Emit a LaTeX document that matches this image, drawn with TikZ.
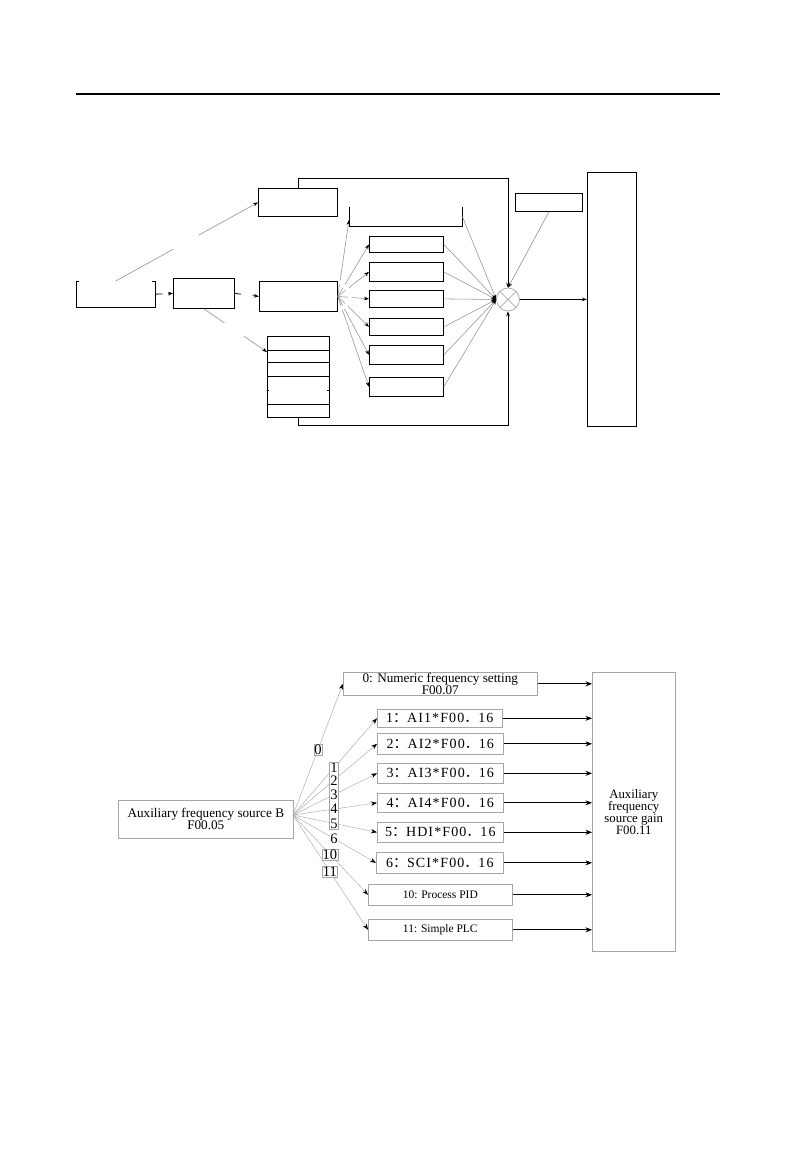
\documentclass[tikz,border=0pt]{standalone}
\usepackage{fontspec}
\setmainfont{Liberation Serif}
\newfontfamily\cjk{Noto Sans CJK SC}
\newfontfamily\aifont[LetterSpace=8]{Liberation Serif}
\usetikzlibrary{arrows.meta,calc,fit}
\begin{document}
\begin{tikzpicture}[x=1pt,y=-1pt,
  tbox/.style={draw,line width=0.8pt,inner sep=0pt,anchor=north west},
  tnone/.style={inner sep=0pt,anchor=north west},
  tarr/.style={-{Stealth[length=5pt,width=3.6pt]},line width=0.8pt},
  tfan/.style={draw=gray!85,line width=0.55pt,-{Stealth[length=5pt,width=3.6pt,color=black]}},
  bbox/.style={draw=gray!70,line width=0.6pt,inner sep=0pt,anchor=north west,align=center,font=\fontsize{11.5}{12}\selectfont},
  bigtxt/.style={font=\fontsize{13.2}{12}\selectfont},
  aibox/.style={bbox,font=\fontsize{14}{14}\aifont},
  barr/.style={-{Stealth[length=6.5pt,width=5pt]},line width=0.7pt},
  bfan/.style={draw=gray!65,line width=0.45pt,-{Stealth[length=6pt,width=4.4pt,color=black]}},
  lab/.style={font=\fontsize{14.5}{14}\selectfont,inner sep=0.6pt,fill=white},
  labd/.style={lab,draw=gray!70,line width=0.5pt}]
\useasboundingbox[fill=white] (0,0) rectangle (794,1151);
% header rule
\coordinate (h1) at (76,94);
\coordinate (h2) at (720,94);
\draw[line width=1.3pt] (h1) -- (h2);

% ---------- top diagram ----------
\node[tnone,minimum width=79pt,minimum height=26pt] (L1) at (76,281) {};
\draw[line width=0.8pt] ([xshift=3pt]L1.north west) -- (L1.north west) -- (L1.south west) -- (L1.south east) -- (L1.north east) -- ([xshift=-3pt]L1.north east);
\node[tbox,minimum width=61pt,minimum height=30pt] (L2) at (173,278) {};
\node[tbox,minimum width=78pt,minimum height=30pt] (M) at (259,281) {};
\node[tbox,minimum width=79pt,minimum height=28pt] (T) at (258,188) {};
\node[tbox,minimum width=62pt,minimum height=81pt] (S) at (267,336) {};
\foreach \yy in {350,362,376,404} \draw[line width=0.8pt] (267,\yy) -- (329,\yy);
\draw[line width=0.8pt] (267,390) -- ++(2,0) (329,390) -- ++(-2,0);
\node[tnone,minimum width=113pt,minimum height=19pt] (U) at (349,207) {};
\draw[line width=0.8pt] (U.north west) -- (U.south west) -- (U.south east) -- (U.north east);
\node[tbox,minimum width=74pt,minimum height=16pt] (K1) at (369,236) {};
\node[tbox,minimum width=74pt,minimum height=19pt] (K2) at (369,262) {};
\node[tbox,minimum width=74pt,minimum height=17pt] (K3) at (369,290) {};
\node[tbox,minimum width=74pt,minimum height=17pt] (K4) at (369,318) {};
\node[tbox,minimum width=74pt,minimum height=19pt] (K5) at (369,345) {};
\node[tbox,minimum width=74pt,minimum height=19pt] (K6) at (369,377) {};
\node[tbox,minimum width=67pt,minimum height=18pt] (P) at (515,193) {};
\node[tbox,minimum width=49pt,minimum height=254pt] (B) at (587,172) {};
\node[draw=gray!80,line width=0.6pt,circle,minimum size=23pt,inner sep=0pt] (C) at (508,299.5) {};
\draw[gray!80,line width=0.6pt] (C.north west) -- (C.south east) (C.north east) -- (C.south west);

\draw[tarr,dash pattern=on 7pt off 6pt] (L1.east) -- (L2.west);
\draw[tarr,dash pattern=on 6pt off 12pt] (L2.east) -- (M.west);
\draw[tfan,line width=0.6pt,dash pattern=on 66pt off 29pt on 200pt] (L1.north) -- (T.west);
\coordinate (Sin) at (267,352);
\draw[tfan,line width=0.6pt,dash pattern=on 25pt off 24pt on 100pt] (L2.south) -- (Sin);
\coordinate (Uin) at (349,220);
\draw[tfan,dash pattern=on 12pt off 4pt on 100pt] (M.east) -- (Uin);
\foreach \k in {1,...,6} {
  \draw[tfan,dash pattern=on 10pt off 4pt on 100pt] (M.east) -- (K\k.west);
  \draw[tfan] (K\k.east) -- (C.west);
}
\draw[tfan] (U.east) -- (C.west);
\draw[tarr] (T.north) -- ++(0,-10) -| (C.north);
\draw[tarr] (S.south) -- ++(0,8) -| (C.south);
\draw[tfan,line width=0.6pt] (P.south) -- (C.north);
\draw[tarr] (C.east) -- (B.west);

% ---------- bottom diagram ----------
\node[bbox,bigtxt,minimum width=175pt,minimum height=38pt] (A) at (118,800) {Auxiliary frequency source B\\F00.05};
\node[bbox,bigtxt,minimum width=194pt,minimum height=23pt] (B0) at (343,672) {0: Numeric frequency setting\\F00.07};
\node[aibox,minimum width=125pt,minimum height=18pt] (B1) at (377,709) {1{\cjk ：}AI1*F00{\cjk ．}16};
\node[aibox,minimum width=126pt,minimum height=21pt] (B2) at (377,733) {2{\cjk ：}AI2*F00{\cjk ．}16};
\node[aibox,minimum width=126pt,minimum height=20pt] (B3) at (377,763) {3{\cjk ：}AI3*F00{\cjk ．}16};
\node[aibox,minimum width=126pt,minimum height=19pt] (B4) at (377,793) {4{\cjk ：}AI4*F00{\cjk ．}16};
\node[aibox,minimum width=126pt,minimum height=20pt] (B5) at (377,822) {5{\cjk ：}HDI*F00{\cjk ．}16};
\node[aibox,minimum width=127pt,minimum height=21pt] (B6) at (376,852) {6{\cjk ：}SCI*F00{\cjk ．}16};
\node[bbox,minimum width=144pt,minimum height=21pt] (B10) at (368,884) {10: Process PID};
\node[bbox,minimum width=144pt,minimum height=21pt] (B11) at (368,919) {11: Simple PLC};
\node[bbox,font=\fontsize{12.8}{11.6}\selectfont,minimum width=83pt,minimum height=279pt] (G) at (592,672) {Auxiliary\\frequency\\source gain\\F00.11};

\foreach \b in {B0,B1,B2,B3,B4,B5,B6,B10,B11}
  \draw[barr] (\b.east) -- (\b.east -| G.west);

\coordinate (Ao) at (293,815);
\draw[bfan] (Ao) -- node[labd,pos=0.5] (l0) {0} (B0.west);
\draw[bfan] (Ao) -- node[lab,pos=0.488] (l1) {1} (B1.west);
\draw[bfan] (Ao) -- node[lab,pos=0.488] (l2) {2} (B2.west);
\draw[bfan] (Ao) -- node[lab,pos=0.488] (l3) {3} (B3.west);
\draw[bfan] (Ao) -- node[lab,pos=0.488] (l4) {4} (B4.west);
\draw[bfan] (Ao) -- node[lab,pos=0.488] (l5) {5} (B5.west);
\draw[bfan] (Ao) -- node[lab,pos=0.494] (l6) {6} (B6.west);
\draw[bfan] (Ao) -- node[labd,pos=0.493] (l10) {10} (B10.west);
\draw[bfan] (Ao) -- node[labd,pos=0.493] (l11) {11} (B11.west);
\node[draw=gray!70,line width=0.5pt,inner sep=0.3pt,fit=(l1)(l5)] (lcol) {};
\end{tikzpicture}
\end{document}
